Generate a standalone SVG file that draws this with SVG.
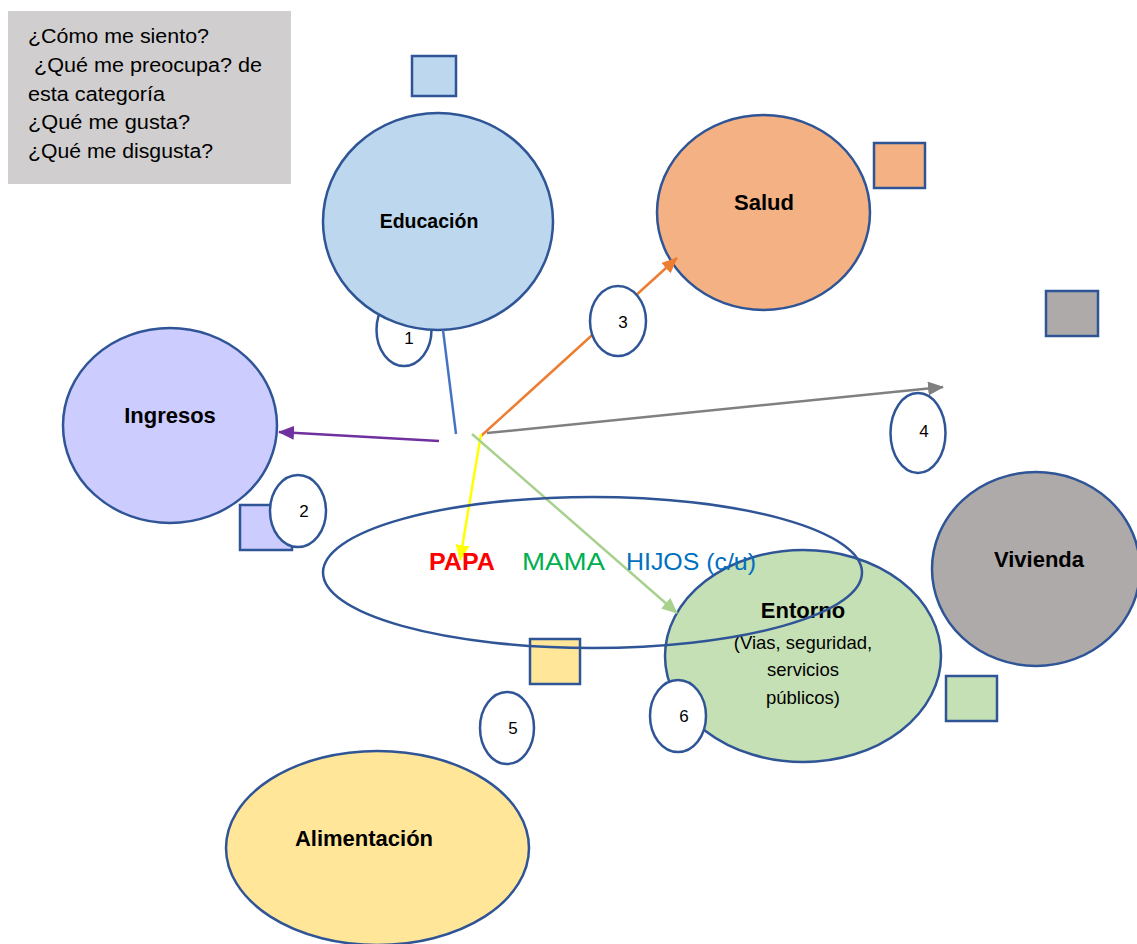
<svg xmlns="http://www.w3.org/2000/svg" width="1137" height="944" viewBox="0 0 1137 944">
<style>
.n{stroke:#2f5597;stroke-width:2.5}
.t{font-family:"Liberation Sans",Arial,sans-serif;fill:#000}
.b{font-weight:bold;font-size:22px;text-anchor:middle}
.num{font-size:17px;text-anchor:middle}
.sub{font-size:18.5px;text-anchor:middle}
.q{font-size:20px}
.c{fill:none;stroke-width:2.5}
.fam{font-family:"Liberation Sans",Arial,sans-serif;font-size:24px}
</style>
<defs>
<marker id="aP" markerUnits="userSpaceOnUse" markerWidth="16" markerHeight="14" refX="15" refY="7" orient="auto"><path d="M0,0 L16,7 L0,14 Z" fill="#7030a0"/></marker>
<marker id="aO" markerUnits="userSpaceOnUse" markerWidth="16" markerHeight="14" refX="15" refY="7" orient="auto"><path d="M0,0 L16,7 L0,14 Z" fill="#ed7d31"/></marker>
<marker id="aG" markerUnits="userSpaceOnUse" markerWidth="16" markerHeight="14" refX="15" refY="7" orient="auto"><path d="M0,0 L16,7 L0,14 Z" fill="#808080"/></marker>
<marker id="aY" markerUnits="userSpaceOnUse" markerWidth="16" markerHeight="14" refX="15" refY="7" orient="auto"><path d="M0,0 L16,7 L0,14 Z" fill="#ffff00"/></marker>
<marker id="aL" markerUnits="userSpaceOnUse" markerWidth="16" markerHeight="14" refX="15" refY="7" orient="auto"><path d="M0,0 L16,7 L0,14 Z" fill="#a9d18e"/></marker>
</defs>
<rect width="1137" height="944" fill="#fff"/>

<g id="info">
<rect x="8" y="11" width="283" height="173" fill="#d0cece"/>
<text class="t q" x="28" y="43" textLength="181" lengthAdjust="spacingAndGlyphs">¿Cómo me siento?</text>
<text class="t q" x="28" y="72" xml:space="preserve" textLength="234" lengthAdjust="spacingAndGlyphs"> ¿Qué me preocupa? de</text>
<text class="t q" x="28" y="101" textLength="137" lengthAdjust="spacingAndGlyphs">esta categoría</text>
<text class="t q" x="28" y="129" textLength="162" lengthAdjust="spacingAndGlyphs">¿Qué me gusta?</text>
<text class="t q" x="28" y="158" textLength="185" lengthAdjust="spacingAndGlyphs">¿Qué me disgusta?</text>
</g>

<g id="sq-educacion"><rect class="n" x="412" y="56" width="44" height="40" fill="#bdd7ee"/></g>
<g id="sq-salud"><rect class="n" x="874" y="143" width="51" height="45" fill="#f4b183"/></g>
<g id="sq-vivienda"><rect class="n" x="1046" y="291" width="52" height="45" fill="#aeaaaa"/></g>
<g id="sq-ingresos"><rect class="n" x="240" y="505" width="52" height="45" fill="#ccccff"/></g>
<g id="sq-entorno"><rect class="n" x="946" y="676" width="51" height="45" fill="#c5e0b4"/></g>

<g id="num1"><ellipse class="n" cx="404" cy="330" rx="27.5" ry="36" fill="#fff"/><text class="t num" x="409" y="344">1</text></g>

<g id="educacion"><ellipse class="n" cx="438" cy="221.5" rx="115" ry="108.5" fill="#bdd7ee"/><text class="t b" x="429" y="228" style="font-size:19.5px">Educación</text></g>
<g id="salud"><ellipse class="n" cx="763.5" cy="212.5" rx="106.5" ry="97.5" fill="#f4b183"/><text class="t b" x="764" y="210">Salud</text></g>
<g id="ingresos"><ellipse class="n" cx="170" cy="425.5" rx="107" ry="97.5" fill="#ccccff"/><text class="t b" x="170" y="423">Ingresos</text></g>
<g id="vivienda"><ellipse class="n" cx="1036" cy="569" rx="104" ry="97" fill="#aeaaaa"/><text class="t b" x="1039" y="567">Vivienda</text></g>
<g id="alimentacion"><ellipse class="n" cx="377.5" cy="848" rx="151.5" ry="97" fill="#ffe699"/><text class="t b" x="364" y="846">Alimentación</text></g>
<g id="entorno"><ellipse class="n" cx="803" cy="656" rx="138" ry="106" fill="#c5e0b4"/>
<text class="t b" x="803" y="618">Entorno</text>
<text class="t sub" x="803" y="649">(Vias, seguridad,</text>
<text class="t sub" x="803" y="676">servicios</text>
<text class="t sub" x="803" y="704">públicos)</text></g>

<g id="sq-alimentacion"><rect class="n" x="530" y="639" width="50" height="45" fill="#ffe699"/></g>

<g id="connectors">
<line class="c" x1="443" y1="330" x2="456" y2="434" stroke="#4472c4"/>
<line class="c" x1="439" y1="441" x2="279" y2="432" stroke="#7030a0" marker-end="url(#aP)"/>
<line class="c" x1="481" y1="436" x2="677" y2="258" stroke="#ed7d31" marker-end="url(#aO)"/>
<line class="c" x1="487" y1="433" x2="943" y2="387" stroke="#808080" marker-end="url(#aG)"/>
<line class="c" x1="481" y1="434" x2="460" y2="560" stroke="#ffff00" marker-end="url(#aY)"/>
<line class="c" x1="472" y1="434" x2="677" y2="613" stroke="#a9d18e" marker-end="url(#aL)"/>
</g>

<g id="familia">
<ellipse cx="592.5" cy="572.5" rx="269.5" ry="75.5" fill="none" stroke="#2f5597" stroke-width="2.5"/>
<text class="fam" x="429" y="570" style="font-weight:bold;fill:#ff0000" textLength="66" lengthAdjust="spacingAndGlyphs">PAPA</text>
<text class="fam" x="522" y="570" style="fill:#00b050" textLength="83" lengthAdjust="spacingAndGlyphs">MAMA</text>
<text class="fam" x="626" y="570" style="fill:#0070c0" textLength="130" lengthAdjust="spacingAndGlyphs">HIJOS (c/u)</text>
</g>

<g id="num2"><ellipse class="n" cx="298" cy="511" rx="28" ry="36" fill="#fff"/><text class="t num" x="304" y="517">2</text></g>
<g id="num3"><ellipse class="n" cx="618" cy="321" rx="28" ry="35" fill="#fff"/><text class="t num" x="623" y="328">3</text></g>
<g id="num4"><ellipse class="n" cx="918" cy="433" rx="27.5" ry="40" fill="#fff"/><text class="t num" x="924" y="437">4</text></g>
<g id="num5"><ellipse class="n" cx="507" cy="728" rx="27" ry="36" fill="#fff"/><text class="t num" x="513" y="734">5</text></g>
<g id="num6"><ellipse class="n" cx="678" cy="716" rx="28" ry="36" fill="#fff"/><text class="t num" x="684" y="722">6</text></g>
</svg>
